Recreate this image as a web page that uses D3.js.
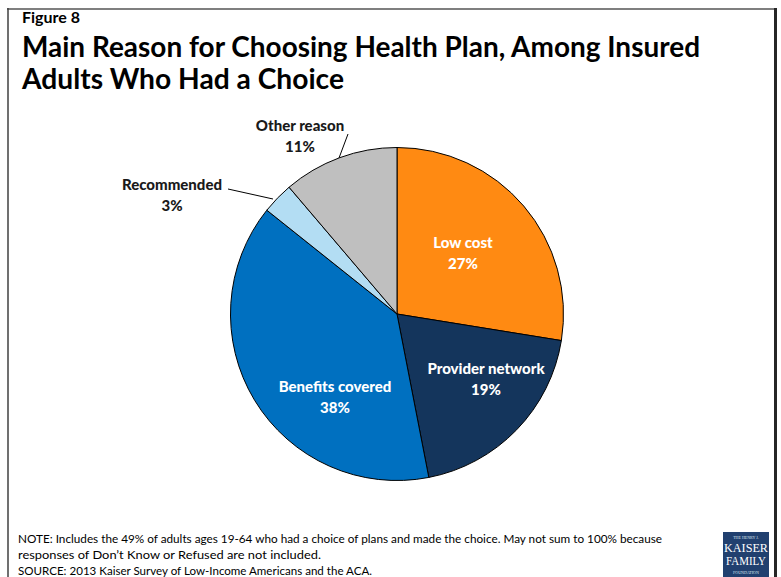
<!DOCTYPE html>
<html lang="en">
<head>
  <meta charset="UTF-8">
  <title>Main Reason for Choosing Health Plan</title>
  <script src="https://d3js.org/d3.v7.min.js"></script>
  <style>
    body { margin: 0; background: #fff; }
    svg text { font-family: Lato, "Open Sans", sans-serif; }
  </style>
</head>
<body>
  <svg id="chart" width="781" height="577"></svg>

  <script>
    // chart data, in clockwise order from 12 o'clock
    const reasons = ["Low cost", "Provider network", "Benefits covered", "Recommended", "Other reason"];
    const shares = [27, 19, 38, 3, 11];
    const sliceColors = ["#FF8A12", "#14355C", "#0070C0", "#B3DDF3", "#BFBFBF"];

    const noteLines = [
      "NOTE: Includes the 49% of adults ages 19-64 who had a choice of plans and made the choice. May not sum to 100% because",
      "responses of Don\u2019t Know or Refused are not included.",
      "SOURCE: 2013 Kaiser Survey of Low-Income Americans and the ACA."
    ];

    const width = 781, height = 577;
    const cx = 397, cy = 314, radius = 166.5;

    const svg = d3.select("#chart");

    // frame
    svg.append("line").attr("x1", 7).attr("x2", 776).attr("y1", 9).attr("y2", 9)
      .style("stroke", "#7f7f7f").style("stroke-width", 2);
    svg.append("line").attr("x1", 8).attr("x2", 8).attr("y1", 8).attr("y2", height)
      .style("stroke", "#404040").style("stroke-width", 1.5);
    svg.append("line").attr("x1", 775.5).attr("x2", 775.5).attr("y1", 8).attr("y2", height)
      .style("stroke", "#262626").style("stroke-width", 3);

    // titles
    svg.append("text").attr("x", 22).attr("y", 23)
      .style("font-size", "15px").style("font-weight", "bold")
      .attr("textLength", 58).attr("lengthAdjust", "spacingAndGlyphs")
      .text("Figure 8");
    svg.append("text").attr("x", 22).attr("y", 57)
      .style("font-size", "28.5px").style("font-weight", "bold")
      .attr("textLength", 678).attr("lengthAdjust", "spacingAndGlyphs")
      .text("Main Reason for Choosing Health Plan, Among Insured");
    svg.append("text").attr("x", 22).attr("y", 89)
      .style("font-size", "28.5px").style("font-weight", "bold")
      .attr("textLength", 322).attr("lengthAdjust", "spacingAndGlyphs")
      .text("Adults Who Had a Choice");

    // pie
    const pie = d3.pie().sort(null).value(d => d.value);
    const arc = d3.arc().innerRadius(0).outerRadius(radius);
    const data = reasons.map((r, i) => ({ name: r, value: shares[i], color: sliceColors[i] }));
    const arcs = pie(data);

    const g = svg.append("g").attr("transform", `translate(${cx},${cy})`);
    g.selectAll("path")
      .data(arcs)
      .enter().append("path")
      .attr("d", arc)
      .style("fill", d => d.data.color)
      .style("stroke", "#000")
      .style("stroke-width", 1);

    // label anchors (offset from pie centre), inside or outside
    const labelPos = [
      { dx: 66, dy: -66, inside: true },
      { dx: 89, dy: 60, inside: true },
      { dx: -62, dy: 78, inside: true },
      { dx: -225, dy: -124, inside: false },
      { dx: -97, dy: -183, inside: false }
    ];
    // leader lines for the outside labels: [label end, pie edge]
    const leaders = [
      null, null, null,
      [[-169, -125], [-124, -115]],
      [[-49, -180], [-58, -156]]
    ];

    arcs.forEach((d, i) => {
      const p = labelPos[i];
      const t = g.append("text")
        .attr("text-anchor", "middle")
        .style("font-size", "15px").style("font-weight", "900")
        .style("fill", p.inside ? "#fff" : "#1a1a1a");
      t.append("tspan").attr("x", p.dx).attr("y", p.dy).text(d.data.name);
      t.append("tspan").attr("x", p.dx).attr("y", p.dy + 21).text(d.data.value + "%");
      if (leaders[i]) {
        g.append("path")
          .attr("d", d3.line()(leaders[i]))
          .style("fill", "none").style("stroke", "#000").style("stroke-width", 1);
      }
    });

    // notes
    svg.append("g").selectAll("text")
      .data(noteLines)
      .enter().append("text")
      .attr("x", 18)
      .attr("y", (d, i) => 543 + i * 16)
      .style("font-size", "11.5px").style("fill", "#000")
      .attr("textLength", (d, i) => [644, 303, 354][i])
      .attr("lengthAdjust", "spacingAndGlyphs")
      .text(d => d);

    // logo
    const logo = svg.append("g").attr("transform", "translate(723,532)");
    logo.append("rect").attr("width", 46).attr("height", 45).style("fill", "#21406F");
    logo.append("text").attr("x", 23).attr("y", 7).attr("text-anchor", "middle")
      .style("font-family", "'Liberation Serif', serif").style("font-size", "4px").style("fill", "#dfe6f0")
      .text("THE HENRY J.");
    logo.append("text").attr("x", 23).attr("y", 20).attr("text-anchor", "middle")
      .style("font-family", "'Liberation Serif', serif").style("font-size", "12px").style("fill", "#fff")
      .attr("textLength", 44).attr("lengthAdjust", "spacingAndGlyphs")
      .text("KAISER");
    logo.append("text").attr("x", 23).attr("y", 33).attr("text-anchor", "middle")
      .style("font-family", "'Liberation Serif', serif").style("font-size", "12px").style("fill", "#fff")
      .attr("textLength", 40).attr("lengthAdjust", "spacingAndGlyphs")
      .text("FAMILY");
    logo.append("text").attr("x", 23).attr("y", 42).attr("text-anchor", "middle")
      .style("font-family", "'Liberation Serif', serif").style("font-size", "4px").style("fill", "#dfe6f0")
      .text("FOUNDATION");
  </script>
</body>
</html>
